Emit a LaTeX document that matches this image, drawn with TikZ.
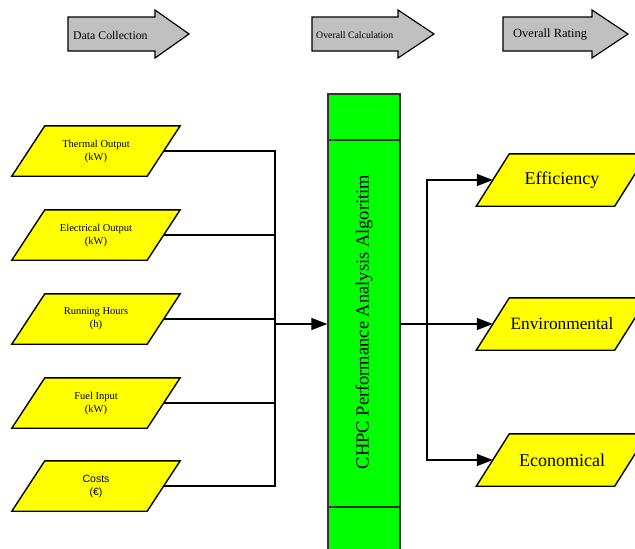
\documentclass[tikz,border=0pt]{standalone}
\usepackage{fontspec}
\setmainfont{Liberation Serif}
\newfontfamily\costfont{Liberation Sans}
\usetikzlibrary{calc,arrows.meta,backgrounds}

\definecolor{ioyellow}{HTML}{FFFF00}
\definecolor{algogreen}{HTML}{00FF00}
\definecolor{stagegray}{HTML}{C0C0C0}

\tikzset{
  conn/.style={line width=1.2pt, draw=black},
  flow/.style={conn, -{Triangle[length=16pt,width=12pt]}},
  inbox/.style={minimum width=135pt, minimum height=50pt, inner sep=0pt,
    align=center, font=\fontsize{10.5}{13}\selectfont},
  outbox/.style={minimum width=138pt, minimum height=52pt, inner sep=0pt,
    font=\fontsize{18}{21}\selectfont},
  paraface/.style={fill=ioyellow, draw=black, line width=1.4pt, line join=miter},
  stage/.style={fill=stagegray, draw=black, line width=1.2pt, line join=miter},
  stagetext/.style={anchor=west, inner sep=0pt},
}

% parallelogram behind a node: #1 node name, #2 horizontal half slant
\newcommand\paraback[2]{%
  \begin{pgfonlayer}{background}
    \path[paraface] ($(#1.north west)+(#2,0)$) -- ($(#1.north east)+(#2,0)$)
      -- ($(#1.south east)+(-#2,0)$) -- ($(#1.south west)+(-#2,0)$) -- cycle;
  \end{pgfonlayer}}

% header arrow: #1 left x, #2 head start x, #3 tip x
\newcommand\stagearrow[3]{%
  \path[stage] (#1,17) -- (#2,17) -- (#2,10) -- (#3,34) -- (#2,58) -- (#2,51)
    -- (#1,51) -- cycle;}

\begin{document}
\begin{tikzpicture}[x=1pt,y=-1pt]
\useasboundingbox (0,0) rectangle (635,549);
\clip (0,0) rectangle (635,549);

% stage headers
\stagearrow{68}{155}{189}
\node[stagetext, font=\fontsize{11.8}{14}\selectfont] (hdata) at (73,35) {Data Collection};
\stagearrow{312}{398}{434}
\node[stagetext, font=\fontsize{9.8}{12}\selectfont] (hcalc) at (316,35) {Overall Calculation};
\stagearrow{503}{592}{628}
\node[stagetext, font=\fontsize{12.5}{15}\selectfont] (hrate) at (513,35) {Overall Rating};

% inputs
\node[inbox] (th) at (96,151) {Thermal Output\\(kW)};
\node[inbox] (el) at (96,235) {Electrical Output\\(kW)};
\node[inbox] (rh) at (96,319) {Running Hours\\(h)};
\node[inbox] (fu) at (96,403) {Fuel Input\\(kW)};
\node[inbox] (co) at (96,486) {{\costfont Costs}\\{\costfont(€)}};
\foreach \n in {th,el,rh,fu,co} {\paraback{\n}{16.5}}

% algorithm block
\node[fill=algogreen, draw=black!80, line width=1.4pt, minimum width=72pt,
  minimum height=460pt, inner sep=0pt] (alg) at (364,324) {};
\draw[draw=black!80, line width=1.4pt] (alg.west |- 0,140) -- (alg.east |- 0,140);
\draw[draw=black!80, line width=1.4pt] (alg.west |- 0,507) -- (alg.east |- 0,507);
\node[rotate=90, font=\fontsize{18.5}{21}\selectfont] (algtext) at (364,322)
  {CHPC Performance Analysis Algoritim};

% outputs
\node[outbox] (eff) at (562,180) {Efficiency};
\node[outbox, font=\fontsize{17.3}{20}\selectfont] (env) at (562,324) {Environmental};
\node[outbox] (eco) at (562,460) {Economical};
\foreach \n in {eff,env,eco} {\paraback{\n}{16.5}}

% connectors
\coordinate (busL) at (275,324);
\coordinate (busR) at (427,324);
\foreach \n in {th,el,rh,fu,co} {\draw[conn] (\n.east) -| (busL);}
\draw[flow] (busL) -- (alg.west);
\draw[conn] (alg.east) -- (busR);
\draw[flow] (busR) |- (eff.west);
\draw[flow] (busR) -- (env.west);
\draw[flow] (busR) |- (eco.west);
\end{tikzpicture}
\end{document}
